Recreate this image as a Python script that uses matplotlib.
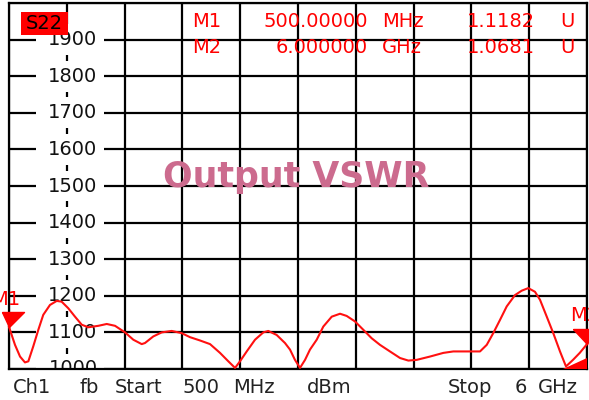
import numpy as np
import matplotlib
matplotlib.use("Agg")
import matplotlib.pyplot as plt
from matplotlib.patches import Rectangle, Polygon
import matplotlib.transforms as mtransforms

# ---- data ----
freq_mhz = [500, 557, 605, 652, 684, 731, 779, 826, 890, 954, 1001, 1064, 1128,
            1192, 1255, 1350, 1430, 1509, 1604, 1683, 1763, 1794, 1873, 1953,
            2048, 2143, 2222, 2317, 2413, 2508, 2587, 2651, 2698, 2762, 2841,
            2920, 2967, 3047, 3126, 3174, 3221, 3269, 3317, 3364, 3428, 3491,
            3571, 3650, 3713, 3792, 3872, 3951, 4030, 4125, 4221, 4300, 4380,
            4506, 4633, 4728, 4887, 4982, 5046, 5108, 5172, 5236, 5315, 5379,
            5441, 5505, 5553, 5617, 5679, 5743, 5800, 5867, 5931, 6000]
vswr = [1115, 1066, 1034, 1018, 1021, 1062, 1107, 1148, 1175, 1186, 1184, 1166,
        1143, 1121, 1114, 1118, 1123, 1118, 1100, 1080, 1068, 1071, 1089, 1100,
        1104, 1098, 1087, 1078, 1068, 1044, 1021, 1003, 1021, 1048, 1080,
        1100, 1104, 1093, 1071, 1053, 1025, 1003, 1025, 1053, 1080, 1116,
        1143, 1151, 1145, 1130, 1107, 1084, 1066, 1048, 1030, 1023, 1025,
        1034, 1044, 1048, 1048, 1048, 1066, 1098, 1134, 1171, 1202, 1214,
        1221, 1211, 1189, 1143, 1098, 1048, 1007, 1025, 1044, 1068]
y_tick_values = [1000, 1100, 1200, 1300, 1400, 1500, 1600, 1700, 1800, 1900]
x_grid = np.linspace(500, 6000, 11)
y_grid = np.arange(1000, 2001, 100)

marker_rows = [("M1", "500.00000", "MHz", "1.1182", "U"),
               ("M2", "6.000000", "GHz", "1.0681", "U")]
bottom_labels = [("Ch1", 13), ("fb", 80), ("Start", 115), ("500", 183),
                 ("MHz", 233), ("dBm", 307), ("Stop", 448), ("6", 515),
                 ("GHz", 538)]

W, H = 589, 400
fig = plt.figure(figsize=(W / 100, H / 100), dpi=100)
fig.patch.set_facecolor("white")
ax = fig.add_axes([9 / W, 31 / H, 578 / W, 366 / H])
ax.set_xlim(500, 6000)
ax.set_ylim(1000, 2000)
ax.set_xticks(x_grid)
ax.set_yticks(y_grid)
ax.tick_params(length=0, labelleft=False, labelbottom=False)
ax.set_axisbelow(True)
ax.grid(True, color="black", lw=1.6)
for s in ax.spines.values():
    s.set_color("black")
    s.set_linewidth(1.6)

FONT = "DejaVu Sans"
blend = mtransforms.blended_transform_factory(ax.transAxes, ax.transData)

# y labels with white boxes
for v in y_tick_values:
    r = Rectangle((27 / 578, v - 42), 68 / 578, 84, transform=blend,
                  facecolor="white", edgecolor="none", zorder=1.5, clip_on=True)
    ax.add_patch(r)
    ax.text(64 / 578, v, f"{v}", transform=blend, ha="center", va="center",
            fontsize=14, family=FONT, color="#111111", zorder=2, clip_on=True)

# curve
ax.plot(freq_mhz, vswr, color="#ff1010", lw=1.5, zorder=3, clip_on=False)

# markers
def tri(tip_left, tip_right):
    return [(-tip_left, 15), (tip_right, 15), (0, 0), (-tip_left, 15)]

ax.plot([freq_mhz[0]], [vswr[0]], marker=tri(7, 15), markersize=21.6,
        color="#ff0000", clip_on=False, zorder=4, ls="none")
ax.plot([freq_mhz[-1]], [vswr[-1]], marker=tri(14, 8), markersize=21.6,
        color="#ff0000", clip_on=False, zorder=4, ls="none")
ax.annotate("M1", (freq_mhz[0], vswr[0]), xytext=(11, 22),
            textcoords="offset pixels", ha="right", va="baseline",
            color="#ff0000", fontsize=14, family=FONT, annotation_clip=False)
ax.annotate("M2", (freq_mhz[-1], vswr[-1]), xytext=(-17, 23),
            textcoords="offset pixels", ha="left", va="baseline",
            color="#ff0000", fontsize=14, family=FONT, annotation_clip=False)
ax.add_patch(Polygon([(554 / 578, 0), (1.0, 0), (1.0, 11 / 366)],
                     closed=True, transform=ax.transAxes, facecolor="#ff0000",
                     edgecolor="none", zorder=4, clip_on=False))

def fx(px):
    return px / W

def fy(py):
    return 1 - py / H

# S22 box
fig.add_artist(Rectangle((fx(21), fy(35)), 47 / W, 23 / H, transform=fig.transFigure,
                         facecolor="#ff0000", edgecolor="none", zorder=10))
fig.text(fx(44.5), fy(23.5), "S22", ha="center", va="center", fontsize=14,
         family=FONT, color="black", zorder=11)

# marker table
for i, (m, num, unit, val, u) in enumerate(marker_rows):
    yb = fy(27 + 26 * i)
    fig.text(fx(192), yb, m, ha="left", va="baseline", color="#ff0000", fontsize=14, family=FONT)
    fig.text(fx(368), yb, num, ha="right", va="baseline", color="#ff0000", fontsize=14, family=FONT)
    fig.text(fx(382), yb, unit, ha="left", va="baseline", color="#ff0000", fontsize=14, family=FONT)
    fig.text(fx(535), yb, val, ha="right", va="baseline", color="#ff0000", fontsize=14, family=FONT)
    fig.text(fx(560), yb, u, ha="left", va="baseline", color="#ff0000", fontsize=14, family=FONT)

# title
fig.text(fx(296), fy(187), "Output VSWR", ha="center", va="baseline",
         fontsize=25, fontweight="bold", family=FONT, color="#cc6b8e", zorder=12)

# bottom annotation
for t, px in bottom_labels:
    fig.text(fx(px), fy(393), t, ha="left", va="baseline", fontsize=14,
             family=FONT, color="#222222")

fig.savefig("out.png", dpi=100, facecolor="white")
